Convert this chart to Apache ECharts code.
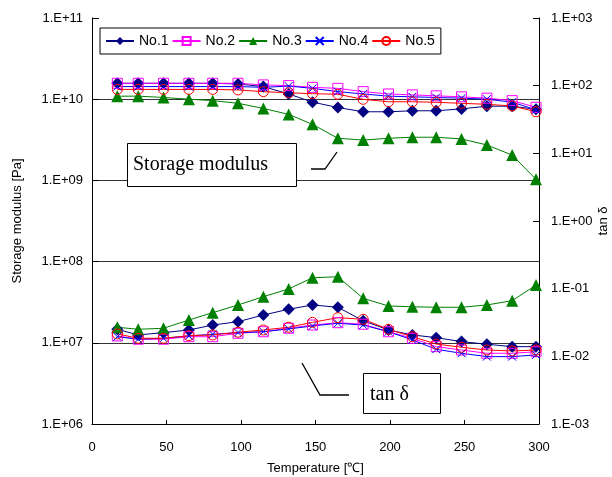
<!DOCTYPE html>
<html>
<head>
<meta charset="utf-8">
<script src="https://cdn.jsdelivr.net/npm/echarts@6/dist/echarts.min.js"></script>
<style>
  html, body { margin: 0; padding: 0; background: #ffffff; }
  #chart { width: 612px; height: 477px; }
</style>
</head>
<body>
<div id="chart"></div>
<script>
// Measurement temperatures [°C]
const temperatures = [17, 31, 48, 65, 81, 98, 115, 132, 148, 165, 182, 199, 215, 231, 248, 265, 282, 298];

// Storage modulus [Pa] for each sample
const modulusNo1 = [1.57e10, 1.57e10, 1.57e10, 1.57e10, 1.57e10, 1.54e10, 1.43e10, 1.16e10, 9.2e9, 7.9e9, 7.0e9, 7.0e9, 7.2e9, 7.2e9, 7.6e9, 8.2e9, 8.2e9, 7.5e9];
const modulusNo2 = [1.57e10, 1.57e10, 1.57e10, 1.57e10, 1.57e10, 1.57e10, 1.50e10, 1.47e10, 1.40e10, 1.36e10, 1.24e10, 1.16e10, 1.13e10, 1.10e10, 1.07e10, 1.03e10, 9.6e9, 7.95e9];
const modulusNo3 = [1.09e10, 1.09e10, 1.05e10, 1.0e10, 9.6e9, 8.9e9, 7.7e9, 6.5e9, 4.9e9, 3.3e9, 3.14e9, 3.3e9, 3.4e9, 3.4e9, 3.24e9, 2.73e9, 2.05e9, 1.03e9];
const modulusNo4 = [1.43e10, 1.43e10, 1.43e10, 1.43e10, 1.43e10, 1.43e10, 1.40e10, 1.45e10, 1.36e10, 1.24e10, 1.16e10, 1.09e10, 1.07e10, 1.05e10, 1.03e10, 1.0e10, 9.2e9, 7.4e9];
const modulusNo5 = [1.32e10, 1.32e10, 1.32e10, 1.32e10, 1.32e10, 1.30e10, 1.24e10, 1.20e10, 1.17e10, 1.15e10, 9.97e9, 9.3e9, 9.3e9, 9.16e9, 8.9e9, 8.65e9, 8.25e9, 7.0e9];

// Loss tangent (tan δ) for each sample
const tanNo1 = [0.0251, 0.0207, 0.0224, 0.0245, 0.029, 0.0325, 0.0408, 0.0496, 0.0574, 0.0531, 0.0336, 0.0245, 0.0207, 0.0189, 0.0165, 0.0151, 0.0139, 0.0139];
const tanNo2 = [0.0200, 0.0179, 0.0179, 0.0195, 0.0195, 0.0219, 0.0231, 0.026, 0.029, 0.0314, 0.0298, 0.0231, 0.0185, 0.0139, 0.0124, 0.0111, 0.0111, 0.0117];
const tanNo3 = [0.0269, 0.0251, 0.026, 0.0344, 0.0442, 0.0574, 0.076, 0.0992, 0.145, 0.150, 0.072, 0.0555, 0.054, 0.0531, 0.0531, 0.0574, 0.0664, 0.113];
const tanNo4 = [0.0195, 0.0179, 0.0185, 0.0200, 0.0212, 0.0224, 0.0231, 0.0254, 0.0281, 0.0308, 0.029, 0.0231, 0.0175, 0.0127, 0.0111, 0.0099, 0.0099, 0.0105];
const tanNo5 = [0.0214, 0.0185, 0.0185, 0.0202, 0.0207, 0.0227, 0.0245, 0.0269, 0.0318, 0.0373, 0.0353, 0.0251, 0.0195, 0.0152, 0.0136, 0.0124, 0.0120, 0.0124];

// Axis ticks
const xTicks = [0, 50, 100, 150, 200, 250, 300];
const modulusRange = [1e6, 1e11];
const tanRange = [1e-3, 1e3];

const sampleNames = ['No.1', 'No.2', 'No.3', 'No.4', 'No.5'];

const pair = (ys) => temperatures.map((t, i) => [t, ys[i]]);

function sciLabel(v) {
  const e = Math.round(Math.log10(v));
  return '1.E' + (e < 0 ? '-' : '+') + String(Math.abs(e)).padStart(2, '0');
}

// Marker styles per sample
const styles = {
  'No.1': { symbol: 'diamond', symbolSize: 12, color: '#000080', item: { color: '#000080' } },
  'No.2': { symbol: 'rect', symbolSize: 10, color: '#FF00FF', item: { color: 'rgba(0,0,0,0)', borderColor: '#FF00FF', borderWidth: 1 } },
  'No.3': { symbol: 'triangle', symbolSize: 12, color: '#008000', item: { color: '#008000' } },
  'No.4': { symbol: 'path://M0,0L10,10M10,0L0,10', symbolSize: 8, color: '#0000FF', item: { color: 'rgba(0,0,0,0)', borderColor: '#0000FF', borderWidth: 1 } },
  'No.5': { symbol: 'circle', symbolSize: 10, color: '#FF0000', item: { color: 'rgba(0,0,0,0)', borderColor: '#FF0000', borderWidth: 1 } }
};

function makeSeries(name, ys, yAxisIndex) {
  const s = styles[name];
  return {
    name: name,
    type: 'line',
    yAxisIndex: yAxisIndex,
    data: pair(ys),
    symbol: s.symbol,
    symbolSize: s.symbolSize,
    showAllSymbol: true,
    lineStyle: { color: s.color, width: 1 },
    itemStyle: s.item,
    emphasis: { disabled: true },
    animation: false
  };
}

const modulusSets = [modulusNo1, modulusNo2, modulusNo3, modulusNo4, modulusNo5];
const tanSets = [tanNo1, tanNo2, tanNo3, tanNo4, tanNo5];

const series = [];
sampleNames.forEach((n, i) => series.push(makeSeries(n, modulusSets[i], 0)));
sampleNames.forEach((n, i) => series.push(makeSeries(n, tanSets[i], 1)));

const labelFont = { fontFamily: 'Liberation Sans, Arial, sans-serif', fontSize: 13, color: '#000' };

const chart = echarts.init(document.getElementById('chart'), null, { renderer: 'canvas' });

chart.setOption({
  backgroundColor: '#ffffff',
  animation: false,
  grid: { left: 92, right: 73, top: 18, bottom: 53, containLabel: false, outerBoundsMode: 'none' },
  legend: {
    data: sampleNames,
    left: 100,
    top: 28,
    orient: 'horizontal',
    itemWidth: 28,
    itemHeight: 10,
    itemGap: 3,
    padding: [6, 6, 6, 5],
    borderColor: '#000',
    borderWidth: 1,
    backgroundColor: '#fff',
    textStyle: { fontFamily: 'Liberation Sans, Arial, sans-serif', fontSize: 14, color: '#000' }
  },
  xAxis: {
    type: 'value',
    min: xTicks[0],
    max: xTicks[xTicks.length - 1],
    interval: 50,
    name: 'Temperature [℃]',
    nameLocation: 'middle',
    nameGap: 38,
    nameTextStyle: labelFont,
    axisLine: { show: true, lineStyle: { color: '#000', width: 1 } },
    axisTick: { show: true, inside: true, length: 4, lineStyle: { color: '#000' } },
    axisLabel: Object.assign({ margin: 17 }, labelFont),
    splitLine: { show: false }
  },
  yAxis: [
    {
      type: 'log',
      logBase: 10,
      min: modulusRange[0],
      max: modulusRange[1],
      splitNumber: 5,
      position: 'left',
      name: 'Storage modulus [Pa]',
      nameLocation: 'middle',
      nameGap: 68,
      nameTextStyle: labelFont,
      axisLine: { show: true, lineStyle: { color: '#000', width: 1 } },
      axisTick: { show: true, inside: true, length: 7, lineStyle: { color: '#000' } },
      axisLabel: Object.assign({ margin: 9, formatter: sciLabel }, labelFont),
      splitLine: { show: true, showMinLine: false, showMaxLine: false, lineStyle: { color: '#333', width: 1 } },
      minorTick: { show: false }
    },
    {
      type: 'log',
      logBase: 10,
      min: tanRange[0],
      max: tanRange[1],
      splitNumber: 6,
      position: 'right',
      axisLine: { show: true, lineStyle: { color: '#000', width: 1 } },
      axisTick: { show: true, inside: true, length: 6, lineStyle: { color: '#000' } },
      axisLabel: Object.assign({ margin: 12, formatter: sciLabel }, labelFont),
      splitLine: { show: false },
      minorTick: { show: false }
    }
  ],
  series: series,
  graphic: [
    // right axis title
    { type: 'text', x: 603, y: 221, rotation: Math.PI / 2, style: { text: 'tan δ', font: '13px "Liberation Sans", Arial, sans-serif', fill: '#000', align: 'center', verticalAlign: 'middle' }, z: 101 },
    // "Storage modulus" call-out
    { type: 'rect', shape: { x: 127.5, y: 143.5, width: 169, height: 43 }, style: { fill: '#fff', stroke: '#000', lineWidth: 1 }, z: 100 },
    { type: 'text', x: 133, y: 165, style: { text: 'Storage modulus', font: '20px "Liberation Serif", "Times New Roman", serif', fill: '#000', verticalAlign: 'middle' }, z: 101 },
    { type: 'polyline', shape: { points: [[311, 169], [325, 169], [337, 152]] }, style: { stroke: '#000', lineWidth: 1.3, fill: null }, z: 100 },
    // "tan δ" call-out
    { type: 'rect', shape: { x: 363.5, y: 373.5, width: 77, height: 40 }, style: { fill: '#fff', stroke: '#000', lineWidth: 1 }, z: 100 },
    { type: 'text', x: 370, y: 395, style: { text: 'tan δ', font: '20px "Liberation Serif", "Times New Roman", serif', fill: '#000', verticalAlign: 'middle' }, z: 101 },
    { type: 'polyline', shape: { points: [[302, 363], [320, 395], [349, 395]] }, style: { stroke: '#000', lineWidth: 1.3, fill: null }, z: 100 }
  ]
});
</script>
</body>
</html>
